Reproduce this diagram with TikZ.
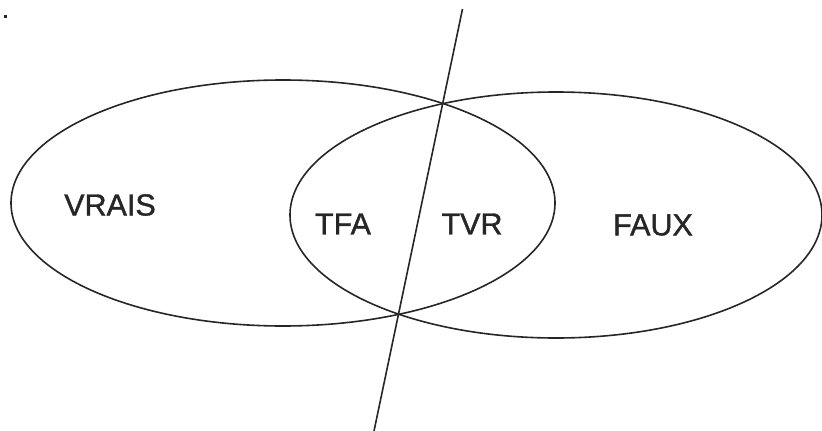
\documentclass[tikz,border=0pt]{standalone}
\usepackage{fontspec}
\setmainfont{Liberation Sans}
\newfontfamily\labfont[FakeBold=1.2]{Liberation Sans}
\usetikzlibrary{shapes.geometric}
\begin{document}
\begin{tikzpicture}[x=1pt,y=-1pt,
  ring/.style={draw=black!85, line width=1.6pt, ellipse, inner sep=0pt},
  lab/.style={inner sep=0pt, font=\labfont\fontsize{30.5}{32}\selectfont, text=black!85},
  cut/.style={draw=black!85, line width=1.6pt}]
\useasboundingbox (0,0) rectangle (822,431);
\node[ring, minimum width=544pt, minimum height=246pt] (vrais) at (283,203) {};
\node[ring, minimum width=532pt, minimum height=246pt] (faux) at (556,215) {};
\coordinate (ctop) at (462.5,9);
\coordinate (cbot) at (374,431);
\draw[cut] (ctop) -- (cbot);
\node[lab] (lv) at (110,205) {VRAIS};
\node[lab] (ltfa) at (343,224) {TFA};
\node[lab] (ltvr) at (472,224) {TVR};
\node[lab] (lf) at (653,225) {FAUX};
\fill[black!85] (4,15) rectangle (7,18);
\end{tikzpicture}
\end{document}
